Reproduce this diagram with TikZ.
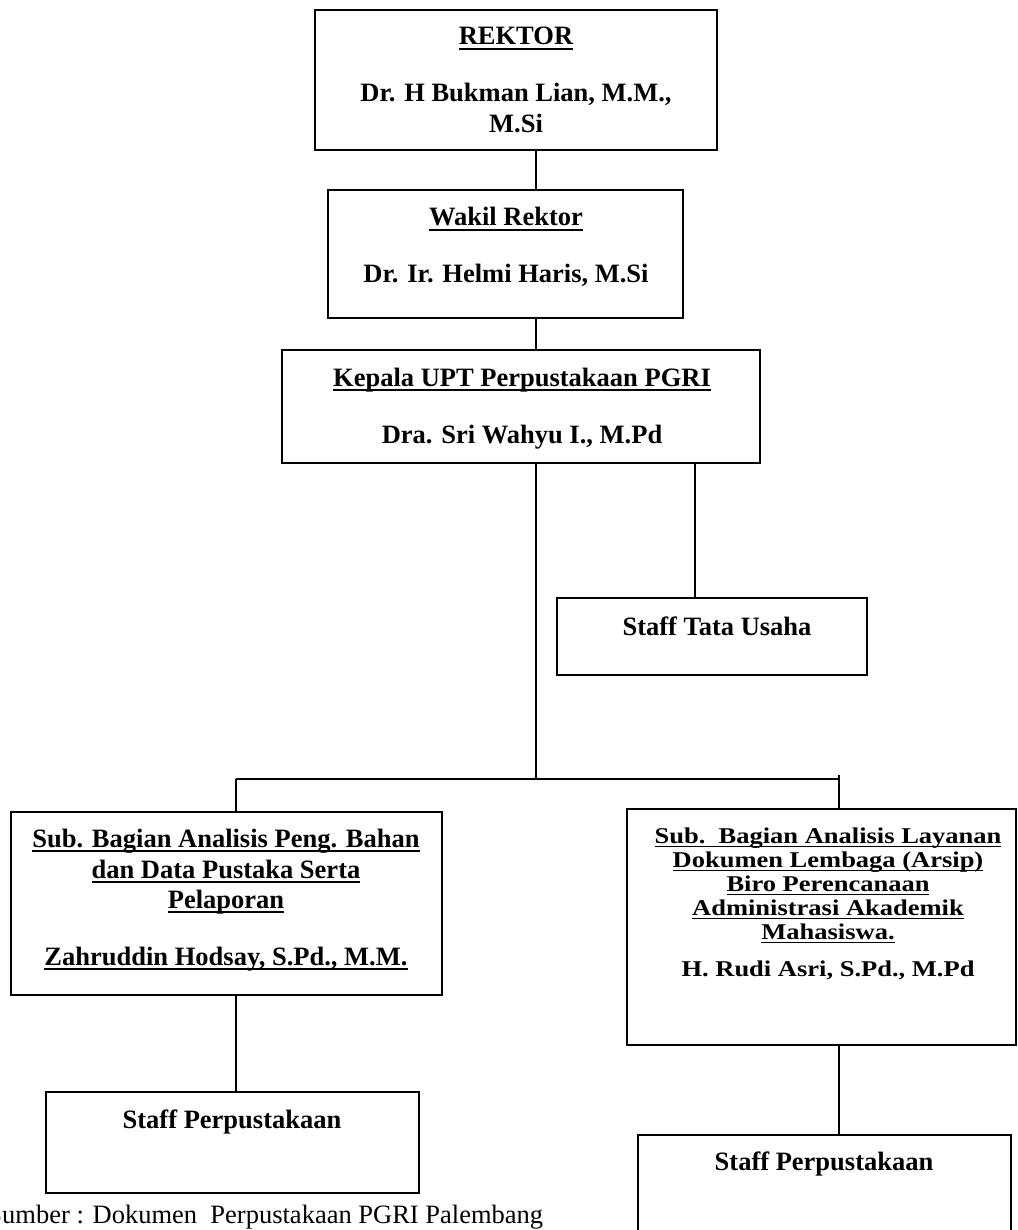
\documentclass[tikz,border=0pt]{standalone}
\usepackage{fontspec}
\usepackage{graphicx}
\setmainfont{Liberation Serif}
\usetikzlibrary{calc}
\newcommand\myul[1]{\setbox0\hbox{#1}\rlap{\rule[-5pt]{\wd0}{1.8pt}}\box0}
\newcommand\squash[1]{\scalebox{1}[0.85]{#1}}
\begin{document}
\begin{tikzpicture}[x=1pt,y=-1pt,
  box/.style={draw, line width=1.6pt, rectangle, inner sep=0pt},
  conn/.style={line width=1.6pt},
  t/.style={anchor=base, inner sep=0pt, font=\bfseries\fontsize{26.5}{30}\selectfont},
  srctext/.style={anchor=base west, inner sep=0pt, font=\fontsize{26.5}{30}\selectfont}]
\useasboundingbox (0,0) rectangle (1017,1230);
% boxes
\node[box, minimum width=402pt, minimum height=140pt] (rektor) at (516,80) {};
\node[box, minimum width=355pt, minimum height=128pt] (wakil) at (505.5,254) {};
\node[box, minimum width=478pt, minimum height=113pt] (kepala) at (521,406.5) {};
\node[box, minimum width=310pt, minimum height=77pt] (tata) at (712,636.5) {};
\node[box, minimum width=431pt, minimum height=183pt] (subL) at (226.5,903.5) {};
\node[box, minimum width=389pt, minimum height=236pt] (subR) at (821.5,927) {};
\node[box, minimum width=373pt, minimum height=101pt] (staffL) at (232.5,1142.5) {};
\node[box, minimum width=373pt, minimum height=110pt] (staffR) at (824.5,1190) {};
% texts
\node[t] (t1) at (516,45) {\myul{REKTOR}};
\node[t] (t2) at (516,102) {Dr. H Bukman Lian, M.M.,};
\node[t] (t3) at (516,133) {M.Si};
\node[t] (t4) at (506,226) {\myul{Wakil Rektor}};
\node[t] (t5) at (506,283) {Dr. Ir. Helmi Haris, M.Si};
\node[t] (t6) at (522,386) {\myul{Kepala UPT Perpustakaan PGRI}};
\node[t] (t7) at (522,443) {Dra. Sri Wahyu I., M.Pd};
\node[t] (t8) at (717,635) {Staff Tata Usaha};
\node[t] (t9) at (226,847) {\myul{Sub. Bagian Analisis Peng. Bahan}};
\node[t] (t10) at (226,878) {\myul{dan Data Pustaka Serta}};
\node[t] (t11) at (226,908) {\myul{Pelaporan}};
\node[t] (t12) at (226,965) {\myul{Zahruddin Hodsay, S.Pd., M.M.}};
\node[t] (t13) at (828,843) {\squash{\myul{Sub.\ \ Bagian Analisis Layanan}}};
\node[t] (t14) at (828,867) {\squash{\myul{Dokumen Lembaga (Arsip)}}};
\node[t] (t15) at (828,891) {\squash{\myul{Biro Perencanaan}}};
\node[t] (t16) at (828,915) {\squash{\myul{Administrasi Akademik}}};
\node[t] (t17) at (828,939) {\squash{\myul{Mahasiswa.}}};
\node[t] (t18) at (828,976) {\squash{H. Rudi Asri, S.Pd., M.Pd}};
\node[t] (t19) at (232,1128) {Staff Perpustakaan};
\node[t] (t20) at (824,1170) {Staff Perpustakaan};
\node[srctext] (src) at (2,1223) {\llap{S}umber : Dokumen\ \ Perpustakaan PGRI Palembang};
% connectors
\coordinate (xa) at (536,0);
\coordinate (xc) at (695,0);
\coordinate (busL) at (236,779);
\coordinate (busR) at (839,779);
\coordinate (busTop) at (839,775);
\draw[conn] (rektor.south -| xa) -- (wakil.north -| xa);
\draw[conn] (wakil.south -| xa) -- (kepala.north -| xa);
\draw[conn] (kepala.south -| xa) -- (xa |- busL);
\draw[conn] (kepala.south -| xc) -- (tata.north -| xc);
\draw[conn] (busL) -- (busR);
\draw[conn] (busL) -- (subL.north -| busL);
\draw[conn] (busTop) -- (subR.north -| busR);
\draw[conn] (subL.south -| busL) -- (staffL.north -| busL);
\draw[conn] (subR.south -| busR) -- (staffR.north -| busR);
\end{tikzpicture}
\end{document}
